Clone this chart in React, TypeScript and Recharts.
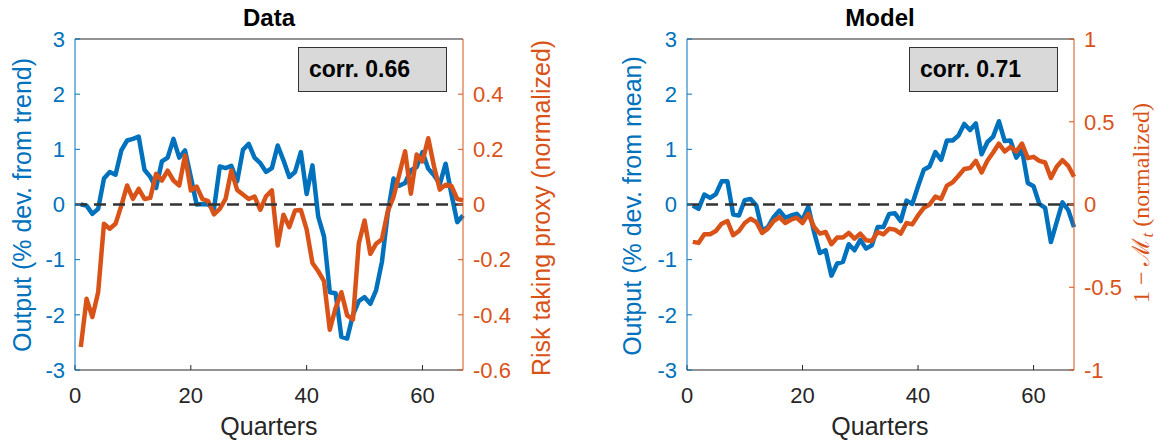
import { LineChart, Line, XAxis, YAxis, ReferenceLine } from "recharts";

// quarter index 1..67
const quarters = Array.from({ length: 67 }, (_, i) => i + 1);

// Data panel: output (% dev. from trend), left axis
const dataOutput = [
  0.0, -0.02, -0.17, -0.08, 0.47, 0.59, 0.54, 0.98, 1.16, 1.19,
  1.23, 0.63, 0.5, 0.3, 0.78, 0.85, 1.19, 0.85, 0.98, 0.5,
  0.0, 0.01, 0.0, -0.08, 0.69, 0.66, 0.7, 0.42, 0.99, 1.1,
  0.85, 0.75, 0.59, 0.66, 1.07, 0.8, 0.5, 0.59, 0.95, 0.19,
  0.71, -0.22, -0.58, -1.59, -1.61, -2.4, -2.43, -2.0, -1.75, -1.68,
  -1.8, -1.55, -1.04, -0.17, 0.47, 0.34, 0.39, 0.62, 0.68, 0.95,
  0.65, 0.53, 0.37, 0.74, 0.19, -0.32, -0.2,
];

// Data panel: risk taking proxy (normalized), right axis
const riskProxy = [
  -0.517, -0.342, -0.408, -0.318, -0.07, -0.088, -0.07, -0.004, 0.069, 0.02,
  0.057, 0.02, 0.024, 0.111, 0.087, 0.123, 0.087, 0.069, 0.178, 0.051,
  0.065, 0.02, 0.012, -0.036, -0.016, 0.02, 0.123, 0.053, 0.036, 0.02,
  0.029, -0.019, 0.03, 0.051, -0.149, -0.037, -0.082, -0.022, -0.02, -0.09,
  -0.212, -0.242, -0.278, -0.454, -0.375, -0.318, -0.402, -0.417, -0.142, -0.058,
  -0.179, -0.142, -0.126, -0.025, 0.027, 0.11, 0.193, 0.039, 0.181, 0.156,
  0.24, 0.138, 0.054, 0.072, 0.067, 0.02, 0.015,
];

// Model panel: output (% dev. from mean), left axis
const modelOutput = [
  -0.02, -0.08, 0.18, 0.12, 0.19, 0.42, 0.42, -0.18, -0.2, 0.08,
  0.1, -0.02, -0.47, -0.41, -0.23, -0.11, -0.24, -0.2, -0.17, -0.28,
  -0.04, -0.5, -0.88, -0.83, -1.29, -1.07, -1.04, -0.72, -0.83, -0.64,
  -0.8, -0.74, -0.41, -0.41, -0.17, -0.16, -0.3, 0.07, 0.01, 0.33,
  0.63, 0.69, 0.95, 0.81, 1.16, 1.16, 1.25, 1.46, 1.35, 1.47,
  0.91, 1.13, 1.23, 1.51, 1.15, 1.16, 0.85, 0.99, 0.39, 0.33,
  0.01, -0.06, -0.68, -0.32, 0.04, -0.1, -0.41,
];

// Model panel: 1 - M_t (normalized), right axis
const modelWedge = [
  -0.226, -0.232, -0.18, -0.18, -0.16, -0.116, -0.1, -0.186, -0.16, -0.112,
  -0.086, -0.106, -0.172, -0.146, -0.1, -0.076, -0.112, -0.092, -0.08, -0.112,
  -0.056, -0.136, -0.176, -0.166, -0.24, -0.2, -0.2, -0.172, -0.206, -0.176,
  -0.216, -0.22, -0.166, -0.18, -0.146, -0.152, -0.176, -0.112, -0.12, -0.066,
  -0.02, 0.0, 0.048, 0.034, 0.114, 0.134, 0.174, 0.214, 0.22, 0.264,
  0.194, 0.264, 0.314, 0.368, 0.32, 0.348, 0.32, 0.368, 0.28, 0.288,
  0.264, 0.254, 0.16, 0.228, 0.268, 0.234, 0.168,
];

const xTicks = [0, 20, 40, 60];
const outputTicks = [-3, -2, -1, 0, 1, 2, 3];
const riskTicks = [-0.6, -0.4, -0.2, 0, 0.2, 0.4];
const wedgeTicks = [-1, -0.5, 0, 0.5, 1];

const BLUE = "#0072BD";
const ORANGE = "#D95319";
const AXIS = "#262626";
const FONT = "'Liberation Sans', Arial, Helvetica, sans-serif";

function Panel({ left, width, leftAxisWidth, rightAxisWidth, output, other, rightDomain, rightTicks }) {
  const data = quarters.map((q, i) => ({ q, output: output[i], other: other[i] }));
  return (
    <div style={{ position: "absolute", left, top: 0 }}>
      <LineChart
        width={width}
        height={440}
        data={data}
        margin={{ top: 38, right: 0, bottom: 40, left: 0 }}
      >
        <XAxis
          xAxisId="bottom"
          dataKey="q"
          type="number"
          domain={[0, 67]}
          ticks={xTicks}
          interval={0}
          height={30}
          tickSize={-5}
          tickMargin={22}
          stroke={AXIS}
          tick={{ fill: AXIS, fontSize: 22 }}
        />
        <XAxis
          xAxisId="top"
          orientation="top"
          dataKey="q"
          type="number"
          domain={[0, 67]}
          ticks={xTicks}
          interval={0}
          height={1}
          tickSize={-5}
          tick={false}
          stroke={AXIS}
        />
        <YAxis
          yAxisId="left"
          domain={[-3, 3]}
          ticks={outputTicks}
          interval={0}
          width={leftAxisWidth}
          tickSize={-5}
          tickMargin={15}
          stroke={BLUE}
          tick={{ fill: BLUE, fontSize: 22 }}
        />
        <YAxis
          yAxisId="right"
          orientation="right"
          domain={rightDomain}
          ticks={rightTicks}
          interval={0}
          width={rightAxisWidth}
          tickSize={-5}
          tickMargin={15}
          stroke={ORANGE}
          tick={{ fill: ORANGE, fontSize: 22 }}
        />
        <Line
          xAxisId="bottom"
          yAxisId="left"
          dataKey="output"
          stroke={BLUE}
          strokeWidth={4.5}
          strokeLinejoin="round"
          dot={false}
          isAnimationActive={false}
        />
        <Line
          xAxisId="bottom"
          yAxisId="right"
          dataKey="other"
          stroke={ORANGE}
          strokeWidth={4.5}
          strokeLinejoin="round"
          dot={false}
          isAnimationActive={false}
        />
        <ReferenceLine
          xAxisId="bottom"
          yAxisId="left"
          y={0}
          stroke="#333333"
          strokeWidth={2.5}
          strokeDasharray="12 7"
        />
      </LineChart>
    </div>
  );
}

function VLabel({ x, y, color, serif, size = 25, children }) {
  return (
    <div
      style={{
        position: "absolute",
        left: x,
        top: y,
        transform: "translate(-50%, -50%) rotate(-90deg)",
        whiteSpace: "nowrap",
        lineHeight: 1,
        fontSize: size,
        color,
        fontFamily: serif ? "'Liberation Serif', 'DejaVu Serif', serif" : FONT,
      }}
    >
      {children}
    </div>
  );
}

function HText({ x, top, bold, color, size, children }) {
  return (
    <div
      style={{
        position: "absolute",
        left: x,
        top,
        transform: "translateX(-50%)",
        whiteSpace: "nowrap",
        lineHeight: 1,
        fontSize: size,
        fontWeight: bold ? "bold" : "normal",
        color,
      }}
    >
      {children}
    </div>
  );
}

function CorrBox({ x, text }) {
  return (
    <div
      style={{
        position: "absolute",
        left: x,
        top: 47,
        width: 149,
        height: 45,
        boxSizing: "border-box",
        background: "#d9d9d9",
        border: "1.5px solid #333333",
        display: "flex",
        alignItems: "center",
        paddingLeft: 10,
        fontSize: 23,
        fontWeight: "bold",
        color: "#000",
      }}
    >
      {text}
    </div>
  );
}

export default function App() {
  return (
    <div
      style={{
        position: "absolute",
        left: 0,
        top: 0,
        width: 1159,
        height: 440,
        background: "#fff",
        fontFamily: FONT,
        overflow: "hidden",
      }}
    >
      <Panel
        left={0}
        width={580}
        leftAxisWidth={75}
        rightAxisWidth={117}
        output={dataOutput}
        other={riskProxy}
        rightDomain={[-0.6, 0.6]}
        rightTicks={riskTicks}
      />
      <Panel
        left={580}
        width={579}
        leftAxisWidth={107}
        rightAxisWidth={85}
        output={modelOutput}
        other={modelWedge}
        rightDomain={[-1, 1]}
        rightTicks={wedgeTicks}
      />

      <HText x={269} top={6} bold color="#000" size={24}>Data</HText>
      <HText x={880} top={6} bold color="#000" size={24}>Model</HText>
      <HText x={269} top={414} color={AXIS} size={25}>Quarters</HText>
      <HText x={880} top={414} color={AXIS} size={25}>Quarters</HText>

      <CorrBox x={298} text="corr. 0.66" />
      <CorrBox x={909} text="corr. 0.71" />

      <VLabel x={22} y={205} color={BLUE}>Output (% dev. from trend)</VLabel>
      <VLabel x={541} y={208} color={ORANGE}>Risk taking proxy (normalized)</VLabel>
      <VLabel x={632} y={206} color={BLUE}>Output (% dev. from mean)</VLabel>
      <VLabel x={1143} y={203} color={ORANGE} serif size={24}>
        1 − ℳ
        <span style={{ fontSize: "0.7em", fontStyle: "italic", verticalAlign: "-0.25em" }}>t</span>
        {" "}(normalized)
      </VLabel>
    </div>
  );
}
